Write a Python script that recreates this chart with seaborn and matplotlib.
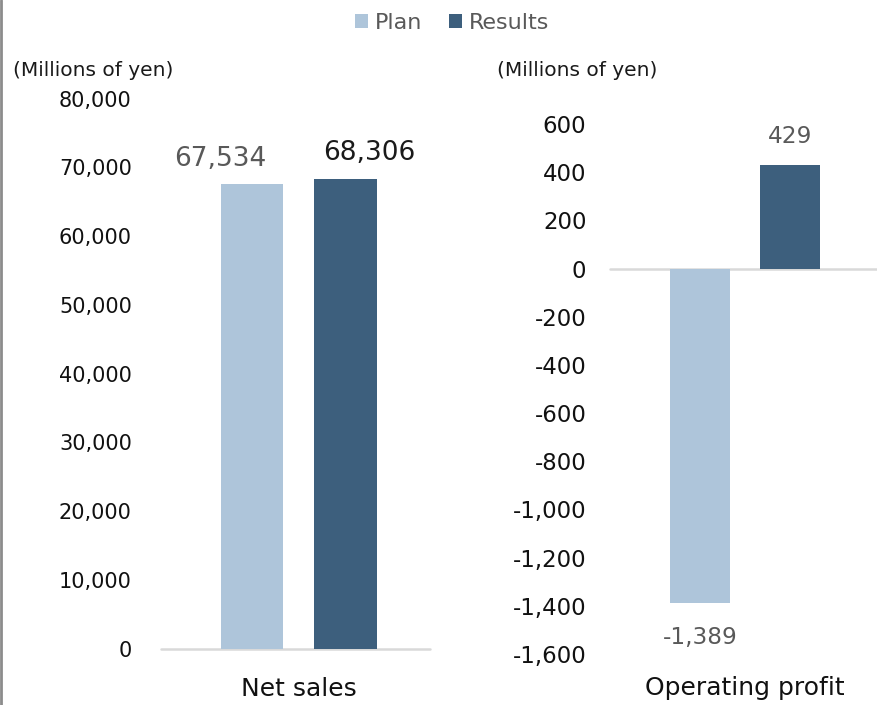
import matplotlib
matplotlib.use("Agg")
import matplotlib.pyplot as plt
from matplotlib.lines import Line2D
from matplotlib.patches import Patch
from matplotlib.ticker import StrMethodFormatter
import pandas as pd
import seaborn as sns

# Values (millions of yen)
series = ["Plan", "Results"]
net_sales = [67534, 68306]
operating_profit = [-1389, 429]
metrics = ["Net sales", "Operating profit"]
unit_label = "(Millions of yen)"

left_ticks = list(range(0, 80001, 10000))
right_ticks = list(range(-1600, 601, 200))

colors = {"Plan": "#AEC5DA", "Results": "#3D5F7D"}

sns.set_theme(style="white")
plt.rcParams["font.family"] = ["DejaVu Sans"]
plt.rcParams["axes.unicode_minus"] = False

df = pd.DataFrame({
    "metric": [metrics[0]] * 2 + [metrics[1]] * 2,
    "series": series * 2,
    "value": net_sales + operating_profit,
})

fig = plt.figure(figsize=(8.77, 7.05), dpi=100)
ax1 = fig.add_axes([0.1836, 0.0801, 0.3067, 0.7801])
ax2 = fig.add_axes([0.6956, 0.0723, 0.3044, 0.7518])

for ax, metric in ((ax1, metrics[0]), (ax2, metrics[1])):
    sub = df[df["metric"] == metric]
    sns.barplot(data=sub, x="series", y="value", hue="series",
                palette=colors, width=0.665, legend=False, ax=ax,
                saturation=1, linewidth=0, edgecolor="none")
    for s in ax.spines.values():
        s.set_visible(False)
    ax.axhline(0, color="#D9D9D9", lw=1.8, zorder=0.5, clip_on=False)
    ax.set_xticks([])
    ax.set_xlabel("")
    ax.set_ylabel("")
    ax.yaxis.set_major_formatter(StrMethodFormatter("{x:,.0f}"))

ax1.set_xlim(-0.973, 1.904)
ax1.set_ylim(0, 80000)
ax1.set_yticks(left_ticks)
ax1.tick_params(axis="y", length=0, pad=21, labelsize=15, labelcolor="#111111")

ax2.set_xlim(-1.0, 1.967)
ax2.set_ylim(-1600, 600)
ax2.set_yticks(right_ticks)
ax2.tick_params(axis="y", length=0, pad=17, labelsize=16.5, labelcolor="#111111")

# Data labels
label_specs = [
    (ax1, net_sales, [(-23, 18), (17, 19)], 19, ["#595959", "#1A1A1A"]),
    (ax2, operating_profit, [(0, -24.5), (0, 21)], 16.7, ["#595959", "#595959"]),
]
for ax, vals, offs, fs, cols in label_specs:
    for patch, val, off, col in zip(ax.patches, vals, offs, cols):
        x = patch.get_x() + patch.get_width() / 2
        ax.annotate(f"{val:,}", xy=(x, val), xytext=off,
                    textcoords="offset points", ha="center", va="center",
                    fontsize=fs, color=col, annotation_clip=False)

# Unit labels and category names
fig.text(93 / 877, 1 - 70 / 705, unit_label, ha="center", va="center",
         fontsize=14.5, color="#1A1A1A")
fig.text(577 / 877, 1 - 70 / 705, unit_label, ha="center", va="center",
         fontsize=14.5, color="#1A1A1A")
fig.text(299 / 877, 1 - 696 / 705, metrics[0], ha="center", va="baseline",
         fontsize=18, color="#111111")
fig.text(745 / 877, 1 - 695 / 705, metrics[1], ha="center", va="baseline",
         fontsize=18, color="#111111")

# Legend
handles = [Patch(facecolor=colors[s], edgecolor="none", label=s) for s in series]
fig.legend(handles=handles, loc="center", bbox_to_anchor=(452 / 877, 1 - 23 / 705),
           ncol=2, frameon=False, fontsize=16, labelcolor="#595959",
           handlelength=0.6, handleheight=0.6, handletextpad=0.3,
           columnspacing=1.2, borderpad=0)

# Left frame edge
fig.add_artist(Line2D([0.0015, 0.0015], [0, 1], transform=fig.transFigure,
                      color="#8C8C8C", lw=2))

fig.savefig("out.png", dpi=100)
